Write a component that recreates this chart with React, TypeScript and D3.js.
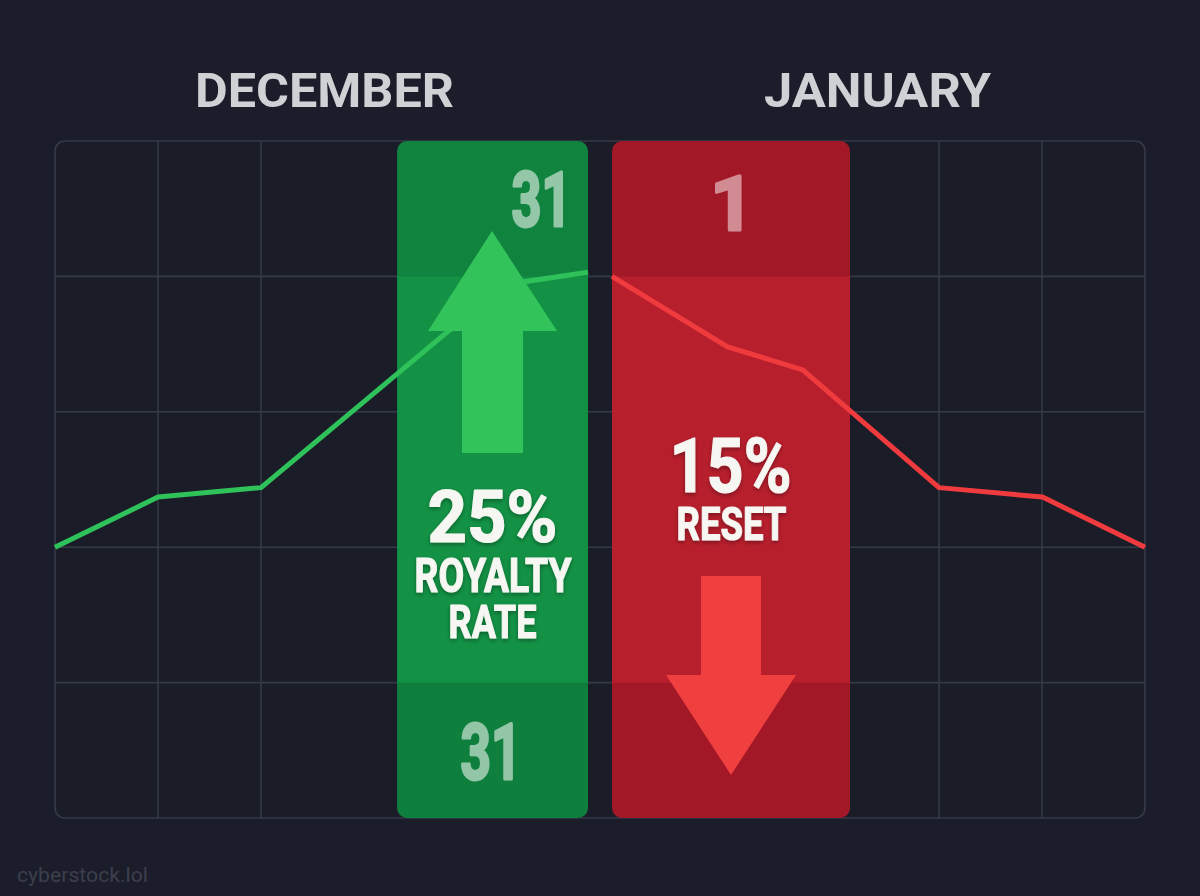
import React from "react";
import * as d3 from "d3";

// ---- Data ----
const decemberX = [0, 9.45, 18.9, 36.0, 41.3, 48.9];
const decemberY = [2.0, 2.37, 2.44, 3.59, 3.94, 4.03];
const januaryX = [51.1, 61.7, 68.6, 81.1, 90.6, 100];
const januaryY = [4.0, 3.48, 3.31, 2.44, 2.37, 2.0];
const gridXTicks = [0, 9.45, 18.9, 81.1, 90.55, 100];
const gridYTicks = [0, 1, 2, 3, 4, 5];
const monthLabels = ["DECEMBER", "JANUARY"];
const greenBand = [31.38, 48.9];
const redBand = [51.1, 72.94];
const bandSections = [
  [4, 5],
  [1, 4],
  [0, 1],
];
const upArrow = { shaft: [37.34, 42.94, 2.696], head: [34.22, 46.06, 3.597], tip: [40.09, 4.335] };
const downArrow = { shaft: [59.27, 64.77, 1.787], head: [56.06, 67.98, 1.056], tip: [62.02, 0.318] };

const W = 1200;
const H = 896;

const x = d3.scaleLinear().domain([0, 100]).range([55, 1145]);
const y = d3.scaleLinear().domain([0, 5]).range([818, 141]);

const line = d3
  .line<[number, number]>()
  .x((d) => x(d[0]))
  .y((d) => y(d[1]))
  .curve(d3.curveLinear);

const decPts = decemberX.map((v, i) => [v, decemberY[i]] as [number, number]);
const janPts = januaryX.map((v, i) => [v, januaryY[i]] as [number, number]);

function arrowPath(a: typeof upArrow) {
  const [sx0, sx1, sEnd] = a.shaft;
  const [hx0, hx1, hBase] = a.head;
  const [tx, ty] = a.tip;
  const p = d3.path();
  p.moveTo(x(sx0), y(sEnd));
  p.lineTo(x(sx0), y(hBase));
  p.lineTo(x(hx0), y(hBase));
  p.lineTo(x(tx), y(ty));
  p.lineTo(x(hx1), y(hBase));
  p.lineTo(x(sx1), y(hBase));
  p.lineTo(x(sx1), y(sEnd));
  p.closePath();
  return p.toString();
}

const greenColors = ["#10843f", "#139245", "#0f7f3d"];
const redColors = ["#a31826", "#b81f2d", "#a31826"];

const FONT = "Roboto, 'Liberation Sans', Arial, sans-serif";

export default function App() {
  const gx0 = x(greenBand[0]);
  const gx1 = x(greenBand[1]);
  const rx0 = x(redBand[0]);
  const rx1 = x(redBand[1]);
  const gcx = (gx0 + gx1) / 2;
  const rcx = (rx0 + rx1) / 2;

  const band = (x0: number, x1: number, colors: string[], id: string) => (
    <g>
      <clipPath id={id}>
        <rect x={x0} y={y(5)} width={x1 - x0} height={y(0) - y(5)} rx={10} ry={10} />
      </clipPath>
      <g clipPath={`url(#${id})`}>
        {bandSections.map(([a, b], i) => (
          <rect key={i} x={x0} y={y(b)} width={x1 - x0} height={y(a) - y(b) + 0.5} fill={colors[i]} />
        ))}
      </g>
    </g>
  );

  return (
    <svg
      width={W}
      height={H}
      viewBox={`0 0 ${W} ${H}`}
      style={{ position: "absolute", left: 0, top: 0, display: "block" }}
    >
      <defs>
        <filter id="ts" x="-10%" y="-10%" width="120%" height="130%">
          <feDropShadow dx="0" dy="2" stdDeviation="2" floodColor="#000" floodOpacity="0.35" />
        </filter>
      </defs>
      <rect width={W} height={H} fill="#1b1d2a" />

      {/* Month headers */}
      <text x={324.5} y={106.5} textAnchor="middle" fill="#d0d1d5" fontFamily={FONT} fontWeight={700}
        fontSize={49} textLength={259} lengthAdjust="spacingAndGlyphs">{monthLabels[0]}</text>
      <text x={877.5} y={106.5} textAnchor="middle" fill="#d0d1d5" fontFamily={FONT} fontWeight={700}
        fontSize={49} textLength={227} lengthAdjust="spacingAndGlyphs">{monthLabels[1]}</text>

      {/* Grid panel */}
      <rect x={x(0)} y={y(5)} width={x(100) - x(0)} height={y(0) - y(5)} rx={10} ry={10}
        fill="#1a1c28" stroke="#343a46" strokeWidth={1.6} />
      {gridYTicks.slice(1, -1).map((t) => (
        <line key={"h" + t} x1={x(0)} x2={x(100)} y1={y(t)} y2={y(t)} stroke="#343a46" strokeWidth={1.6} />
      ))}
      {gridXTicks.slice(1, -1).map((t) => (
        <line key={"v" + t} x1={x(t)} x2={x(t)} y1={y(5)} y2={y(0)} stroke="#343a46" strokeWidth={1.6} />
      ))}

      {/* Bands */}
      {band(gx0, gx1, greenColors, "gclip")}
      {band(rx0, rx1, redColors, "rclip")}

      {/* Lines */}
      <path d={line(decPts) || ""} fill="none" stroke="#2fc25a" strokeWidth={5} strokeLinejoin="round" />
      <path d={line(janPts) || ""} fill="none" stroke="#ef3b3d" strokeWidth={5} strokeLinejoin="round" />

      {/* Arrows */}
      <path d={arrowPath(upArrow)} fill="#32c35b" />
      <path d={arrowPath(downArrow)} fill="#f03f3f" />

      {/* Faded day numbers */}
      <g opacity={0.55} fill="#ffffff" stroke="#ffffff" strokeWidth={3} strokeLinejoin="round"
        fontFamily={FONT} fontWeight={700} textAnchor="middle">
        <text x={541.5} y={226} fontSize={76} textLength={60} lengthAdjust="spacingAndGlyphs">31</text>
        <text x={gcx - 1.5} y={779} fontSize={78} textLength={61} lengthAdjust="spacingAndGlyphs">31</text>
      </g>
      <g opacity={0.5} fill="#ffffff" stroke="#ffffff" strokeWidth={3} strokeLinejoin="round"
        fontFamily={FONT} fontWeight={700} textAnchor="middle">
        <text x={732} y={230} fontSize={76}>1</text>
      </g>

      {/* Band labels */}
      <g filter="url(#ts)" fill="#f6f6f2" stroke="#f6f6f2" strokeWidth={1.2} strokeLinejoin="round"
        fontFamily={FONT} fontWeight={700} textAnchor="middle">
        <text x={gcx} y={541.5} fontSize={73} textLength={130} lengthAdjust="spacingAndGlyphs">25%</text>
        <text x={gcx + 0.5} y={592} fontSize={48} textLength={157} lengthAdjust="spacingAndGlyphs">ROYALTY</text>
        <text x={gcx} y={638} fontSize={47} textLength={88} lengthAdjust="spacingAndGlyphs">RATE</text>
        <text x={rcx - 0.5} y={492} fontSize={76} textLength={122} lengthAdjust="spacingAndGlyphs">15%</text>
        <text x={rcx + 0.5} y={540} fontSize={47} textLength={110} lengthAdjust="spacingAndGlyphs">RESET</text>
      </g>

      {/* Watermark */}
      <text x={17} y={882} fill="#3b3f4d" fontFamily={FONT} fontSize={20} textLength={131}
        lengthAdjust="spacingAndGlyphs">cyberstock.lol</text>
    </svg>
  );
}
